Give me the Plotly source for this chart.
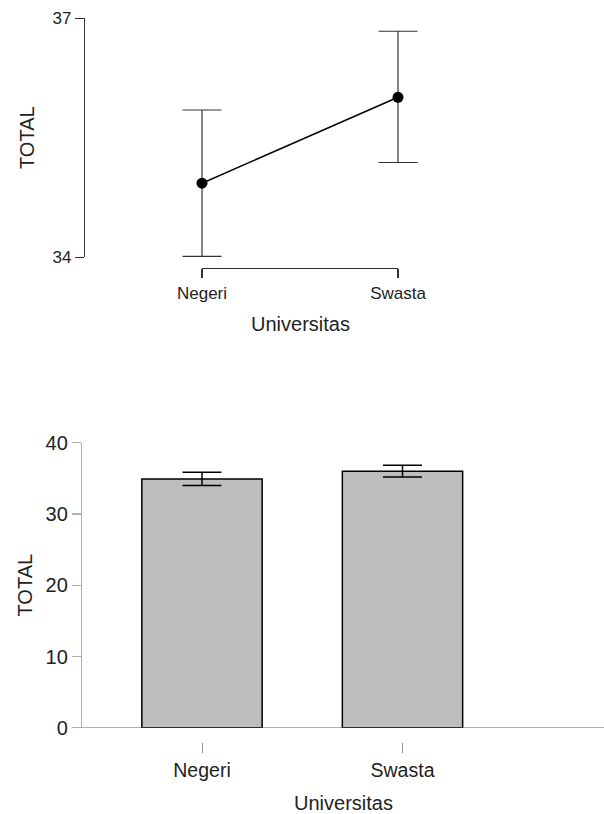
import plotly.graph_objects as go

# ---- data ----
categories = ["Negeri", "Swasta"]
means = [34.93, 36.01]
ci_lower = [34.01, 35.19]
ci_upper = [35.85, 36.84]
top_yticks = [34, 37]
bottom_yticks = [0, 10, 20, 30, 40]
x_title = "Universitas"
y_title = "TOTAL"

W, H = 604, 814
FONT = "Liberation Sans, Arial, sans-serif"

# vertical placement helper (target pixel row -> paper fraction)
VS, VO = 0.973, 10.5
def px(y):
    return 1 - ((y - VO) / VS) / H

err_plus = [u - m for u, m in zip(ci_upper, means)]
err_minus = [m - l for m, l in zip(means, ci_lower)]

fig = go.Figure()

# top: descriptives plot
fig.add_trace(go.Scatter(
    x=categories, y=means, mode="lines+markers",
    line=dict(color="black", width=1.5),
    marker=dict(color="black", size=11),
    error_y=dict(type="data", symmetric=False, array=err_plus, arrayminus=err_minus,
                 color="#333333", thickness=1.2, width=19.5),
    cliponaxis=False, showlegend=False, xaxis="x", yaxis="y",
))

# bottom: bar plot
fig.add_trace(go.Bar(
    x=categories, y=means, width=0.6,
    marker=dict(color="#bebebe", line=dict(color="black", width=1.5)),
    error_y=dict(type="data", symmetric=False, array=err_plus, arrayminus=err_minus,
                 color="black", thickness=1.5, width=19.5),
    showlegend=False, xaxis="x2", yaxis="y2",
))

x1_left, x1_right = 85, 515
x1_range = [(x1_left - 202) / 196, (x1_right - 202) / 196]
x2_left, x2_right = 82, 604
x2_range = [(x2_left - 202) / 200.5, (x2_right - 202) / 200.5]

fig.update_layout(
    width=W, height=H, margin=dict(l=0, r=0, t=0, b=0),
    paper_bgcolor="white", plot_bgcolor="white",
    font=dict(family=FONT, color="#222222"),
    xaxis=dict(domain=[x1_left / W, x1_right / W], range=x1_range, type="category",
               anchor="free", position=px(268), showline=False, showgrid=False, zeroline=False,
               ticks="outside", ticklen=9, tickwidth=1.2, tickcolor="#333333",
               tickfont=dict(size=17, family=FONT, color="#222222")),
    yaxis=dict(domain=[px(256.7), px(18)], range=[34, 37], tickvals=top_yticks,
               anchor="x", showline=True, linecolor="#333333", linewidth=1.2,
               ticks="outside", ticklen=9, tickwidth=1.2, tickcolor="#333333",
               showgrid=False, zeroline=False,
               tickfont=dict(size=17, family=FONT, color="#222222")),
    xaxis2=dict(domain=[x2_left / W, 1], range=x2_range, type="category",
                anchor="free", position=px(742), showline=False, showgrid=False, zeroline=False,
                ticks="outside", ticklen=10, tickwidth=1, tickcolor="#999999",
                tickfont=dict(size=19.5, family=FONT, color="#222222")),
    yaxis2=dict(domain=[px(727.3), px(442.3)], range=[0, 40], tickvals=bottom_yticks,
                anchor="x2", showline=True, linecolor="#b0b0b0", linewidth=1.2,
                ticks="outside", ticklen=9, tickwidth=1.2, tickcolor="#b0b0b0",
                showgrid=False, zeroline=True, zerolinecolor="#b0b0b0", zerolinewidth=1.2,
                tickfont=dict(size=20, family=FONT, color="#222222")),
    shapes=[dict(type="line", xref="x", yref="paper", x0=0, x1=len(categories) - 1,
                 y0=px(268), y1=px(268), line=dict(color="#333333", width=1.2))],
    annotations=[
        dict(text=x_title, xref="paper", yref="paper", x=(x1_left + x1_right) / 2 / W, y=px(324),
             showarrow=False, font=dict(size=20, family=FONT, color="#222222"),
             xanchor="center", yanchor="middle"),
        dict(text=y_title, xref="paper", yref="paper", x=27 / W, y=px(137.5), textangle=-90,
             showarrow=False, font=dict(size=20, family=FONT, color="#222222"),
             xanchor="center", yanchor="middle"),
        dict(text=x_title, xref="paper", yref="paper", x=(x2_left + x2_right) / 2 / W, y=px(803),
             showarrow=False, font=dict(size=20, family=FONT, color="#222222"),
             xanchor="center", yanchor="middle"),
        dict(text=y_title, xref="paper", yref="paper", x=25 / W, y=px(585), textangle=-90,
             showarrow=False, font=dict(size=20, family=FONT, color="#222222"),
             xanchor="center", yanchor="middle"),
    ],
)

fig.write_html(
    "out.html",
    config={"displayModeBar": False, "staticPlot": True},
    post_script=(
        "document.body.style.margin='0';document.body.style.padding='0';"
        "document.documentElement.style.overflow='hidden';"
        "var gd=document.getElementById('{plot_id}');"
        "gd.style.position='fixed';gd.style.top='0px';gd.style.left='0px';"
    ),
)
